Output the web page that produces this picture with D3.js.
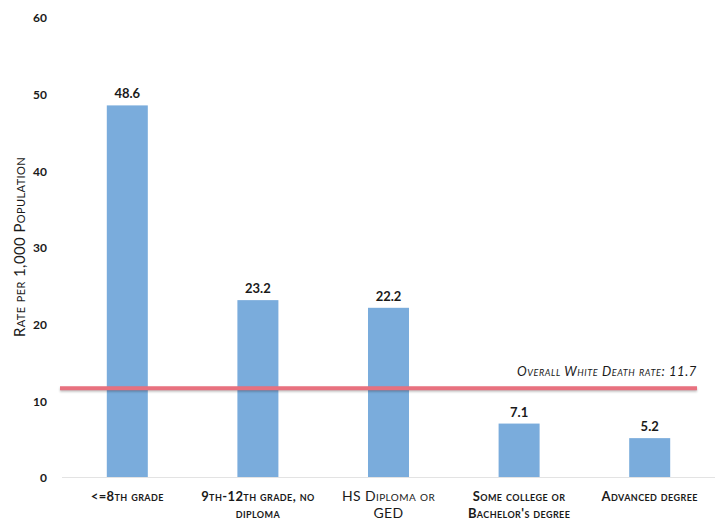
<!DOCTYPE html>
<html>
<head>
<meta charset="utf-8">
<script src="https://cdn.jsdelivr.net/npm/d3@7"></script>
<style>
  html, body { margin: 0; padding: 0; background: #fff; }
  svg text { font-family: Lato, "Open Sans", sans-serif; fill: #1a1a1a; }
</style>
</head>
<body>
<svg id="chart" width="722" height="520"></svg>
<script>
// Death rates by education level
const categories = [
  "<=8th grade",
  "9th-12th grade, no\ndiploma",
  "HS Diploma or\nGED",
  "Some college or\nBachelor's degree",
  "Advanced degree"
];
const rates = [48.6, 23.2, 22.2, 7.1, 5.2];
const yTicks = [0, 10, 20, 30, 40, 50, 60];
const overallRate = 11.7;
const overallLabel = "Overall White Death rate: 11.7";
const yTitle = "Rate per 1,000 Population";

(function draw() {
  const svg = d3.select("#chart");
  const plotLeft = 62, plotRight = 715, plotTop = 18, plotBottom = 478;

  const x = d3.scaleBand()
    .domain(categories)
    .range([plotLeft, plotRight])
    .paddingInner(0.686)
    .paddingOuter(0.343);

  const y = d3.scaleLinear().domain([0, 60]).range([plotBottom, plotTop]);

  // y axis: labels only
  const yAxis = svg.append("g")
    .attr("transform", `translate(${plotLeft - 15},0)`)
    .call(d3.axisLeft(y).tickValues(yTicks).tickSize(0).tickPadding(0));
  yAxis.select(".domain").remove();
  yAxis.selectAll("text")
    .style("font-family", "Lato, sans-serif")
    .style("font-size", "12px")
    .style("font-weight", "700")
    .attr("fill", "#1a1a1a");

  // y axis title
  svg.append("text")
    .attr("transform", "translate(25,247) rotate(-90)")
    .attr("text-anchor", "middle")
    .style("font-size", "15px")
    .style("font-variant", "small-caps")
    .style("letter-spacing", "0.4px")
    .text(yTitle);

  // baseline
  svg.append("line")
    .attr("x1", plotLeft).attr("x2", plotRight)
    .attr("y1", y(0) - 0.5).attr("y2", y(0) - 0.5)
    .attr("stroke", "#e3e3e3").attr("stroke-width", 1);

  // bars
  svg.append("g").selectAll("rect")
    .data(rates)
    .join("rect")
    .attr("x", (d, i) => x(categories[i]))
    .attr("y", d => y(d))
    .attr("width", x.bandwidth())
    .attr("height", d => y(0) - y(d) - 1)
    .attr("fill", "#7aacdc");

  // value labels
  svg.append("g").selectAll("text")
    .data(rates)
    .join("text")
    .attr("x", (d, i) => x(categories[i]) + x.bandwidth() / 2)
    .attr("y", d => y(d) - 7)
    .attr("text-anchor", "middle")
    .style("font-size", "13px")
    .style("font-weight", "700")
    .text(d => d.toFixed(1));

  // category labels
  const catG = svg.append("g");
  categories.forEach((c, i) => {
    const cx = x(c) + x.bandwidth() / 2;
    const t = catG.append("text")
      .attr("x", cx)
      .attr("y", 501)
      .attr("text-anchor", "middle")
      .style("font-size", i === 2 ? "14px" : "13px")
      .style("font-weight", i === 2 ? "400" : "700")
      .style("font-variant", "small-caps")
      .style("letter-spacing", "0.4px");
    c.split("\n").forEach((line, j) => {
      t.append("tspan")
        .attr("x", cx)
        .attr("dy", j === 0 ? 0 : 17)
        .text(line);
    });
  });

  // overall rate reference line with a soft shadow underneath
  const defs = svg.append("defs");
  defs.append("filter").attr("id", "soft")
    .attr("filterUnits", "userSpaceOnUse")
    .attr("x", 0).attr("y", 0).attr("width", 722).attr("height", 520)
    .append("feGaussianBlur").attr("stdDeviation", 1);

  svg.append("line")
    .attr("x1", plotLeft - 2).attr("x2", 697)
    .attr("y1", y(overallRate) + 1.5).attr("y2", y(overallRate) + 1.5)
    .attr("stroke", "#000").attr("stroke-opacity", 0.25).attr("stroke-width", 4)
    .attr("filter", "url(#soft)");

  svg.append("line")
    .attr("x1", plotLeft - 2).attr("x2", 697)
    .attr("y1", y(overallRate)).attr("y2", y(overallRate))
    .attr("stroke", "#e8717f").attr("stroke-width", 4);

  svg.append("text")
    .attr("x", 697)
    .attr("y", y(overallRate) - 12)
    .attr("text-anchor", "end")
    .style("font-size", "13px")
    .style("font-style", "italic")
    .style("font-variant", "small-caps")
    .style("letter-spacing", "0.6px")
    .text(overallLabel);
})();
</script>
</body>
</html>
